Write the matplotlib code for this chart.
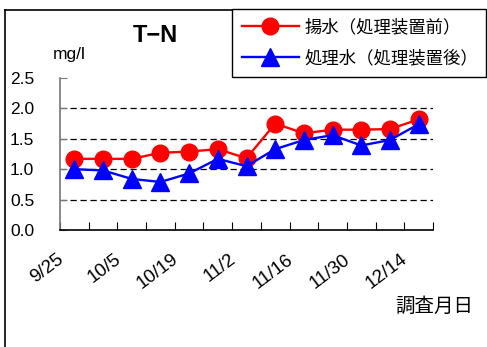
import matplotlib
matplotlib.use("Agg")
import matplotlib.pyplot as plt
import matplotlib.transforms as mtransforms
from matplotlib.lines import Line2D
import numpy as np

plt.rcParams['font.family'] = ['Liberation Sans', 'Noto Sans CJK JP', 'DejaVu Sans']

# ---- data ----
dates = ['9/25', '', '10/5', '', '10/19', '', '11/2', '', '11/16', '', '11/30', '', '12/14']
before = [1.17, 1.17, 1.17, 1.27, 1.29, 1.33, 1.18, 1.75, 1.59, 1.65, 1.65, 1.66, 1.82]
after = [1.00, 0.98, 0.84, 0.79, 0.93, 1.17, 1.05, 1.33, 1.48, 1.56, 1.39, 1.48, 1.74]
series_names = ['揚水（処理装置前）', '処理水（処理装置後）']
title = 'T−N'
unit = 'mg/l'
xlabel = '調査月日'
yticks = [0.0, 0.5, 1.0, 1.5, 2.0, 2.5]
grid_levels = [0.5, 1.0, 1.5, 2.0]

W, H = 487, 347
fig = plt.figure(figsize=(W / 100, H / 100), dpi=100)
ax = fig.add_axes([60 / W, 1 - 230 / H, (433 - 60) / W, (230 - 78) / H])

x = np.arange(len(before))
for g in grid_levels:
    ax.axhline(g, color='black', lw=0.9, dashes=(5, 3), zorder=1)

ax.plot(x, before, color='#ff0000', lw=1.7, marker='o', ms=12,
        markerfacecolor='#ff0000', markeredgecolor='#ff0000', zorder=3, label=series_names[0])
ax.plot(x, after, color='#0000ff', lw=1.7, marker='^', ms=12.5,
        markerfacecolor='#0000ff', markeredgecolor='#0000ff', zorder=4, label=series_names[1])

ax.set_xlim(-0.5, len(before) - 0.5)
ax.set_ylim(0, 2.5)
ax.set_yticks(yticks)
ax.set_yticklabels([f'{v:.1f}' for v in yticks], fontsize=12.5)
ax.tick_params(axis='y', direction='in', length=5, color='#777777', pad=36)
for lab in ax.get_yticklabels():
    lab.set_horizontalalignment('left')

ax.set_xticks(np.arange(-0.5, len(before)), minor=False)
ax.set_xticklabels([])
ax.tick_params(axis='x', which='major', direction='in', length=6, color='black')
ax.set_xticks(x, minor=True)
ax.set_xticklabels(dates, minor=True, fontsize=13.5, rotation=37, ha='right', va='top',
                   rotation_mode='anchor')
ax.tick_params(axis='x', which='minor', length=0, pad=15)
offset = mtransforms.ScaledTranslation(-18 / 100, 0, fig.dpi_scale_trans)
for lab in ax.get_xticklabels(minor=True):
    lab.set_transform(lab.get_transform() + offset)

for s in ['top', 'right']:
    ax.spines[s].set_visible(False)
ax.spines['left'].set_color('#777777')
ax.spines['left'].set_linewidth(1.2)
ax.spines['bottom'].set_color('black')
ax.spines['bottom'].set_linewidth(1.2)

fig.text(155 / W, 1 - 35 / H, title, fontsize=17, fontweight='bold', ha='center', va='center')
fig.text(53 / W, 1 - 55 / H, unit, fontsize=12.5, ha='left', va='center')
fig.text(473 / W, 1 - 306 / H, xlabel, fontsize=14, ha='right', va='center',
         family=['Noto Sans CJK JP', 'DejaVu Sans'])

leg = fig.legend(loc='upper left', bbox_to_anchor=(232 / W, 1 - 12 / H, (486 - 232) / W, 0.01),
                 mode='expand',
                 frameon=True, fancybox=False, edgecolor='black', framealpha=1,
                 prop={'family': ['Noto Sans CJK JP', 'DejaVu Sans'], 'size': 12.5},
                 handlelength=3.3, borderpad=0.55, labelspacing=0.75, handletextpad=0.3,
                 borderaxespad=0)
leg.get_frame().set_linewidth(1.0)

# outer chart border (left and top edges visible)
fig.add_artist(Line2D([5 / W, 5 / W], [0, 1 - 10 / H], color='black', lw=1.2,
                      transform=fig.transFigure))
fig.add_artist(Line2D([5 / W, 1], [1 - 10 / H, 1 - 10 / H], color='black', lw=1.2,
                      transform=fig.transFigure))

fig.savefig('out.png', dpi=100)
